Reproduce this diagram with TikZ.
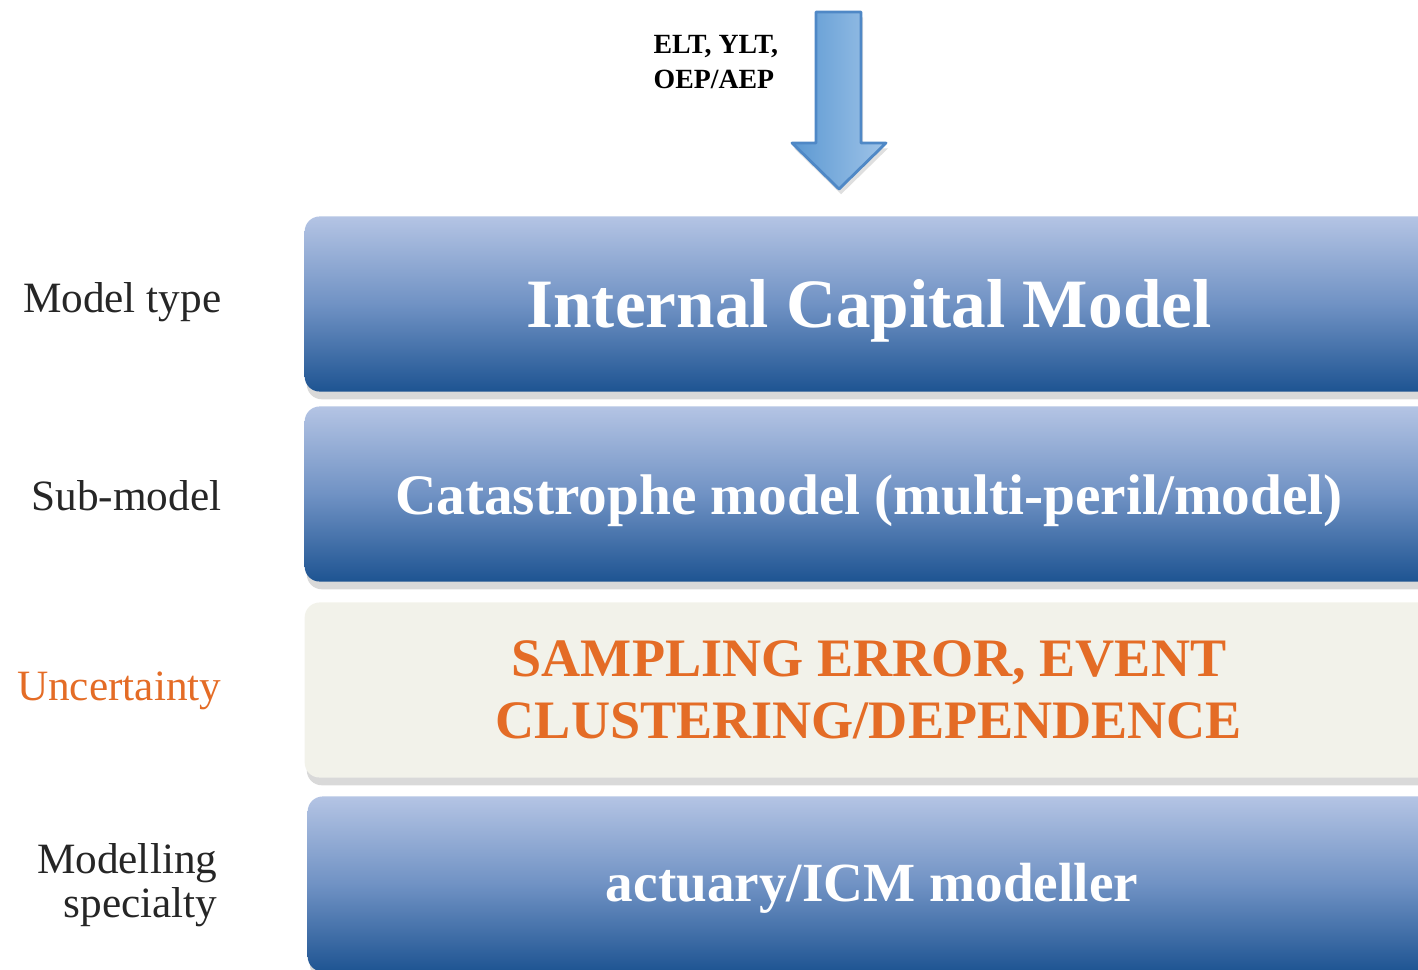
\documentclass[tikz,border=0pt]{standalone}
\usepackage{fontspec}
\setmainfont{Liberation Serif}
\usepackage{tikz}
\usetikzlibrary{shadows}
\definecolor{boxtop}{RGB}{180,196,228}
\definecolor{boxmid}{RGB}{112,146,196}
\definecolor{boxbot}{RGB}{30,84,146}
\definecolor{creambox}{RGB}{242,242,234}
\definecolor{uncorange}{RGB}{228,108,38}
\definecolor{labelgray}{RGB}{38,38,38}
\definecolor{arrowleft}{RGB}{91,152,210}
\definecolor{arrowright}{RGB}{160,196,232}
\definecolor{arrowedge}{RGB}{79,136,198}

\begin{document}
\begin{tikzpicture}
      [x=0.01cm,y=-0.01cm,line cap=round,line join=round,
     %the stacked layers
     layerbox/.style={rounded corners=0.15cm,minimum width=11.28cm,minimum height=1.75cm,
        drop shadow={shadow xshift=0.6pt,shadow yshift=-2.2pt,opacity=0.3}},
     bluebox/.style={layerbox,top color=boxtop,bottom color=boxbot,middle color=boxmid,
        text=white,font=\bfseries},
     %the labels on the left
     sidelabel/.style={anchor=east,align=right,text=labelgray,inner sep=0pt,
        font=\fontsize{12.3}{12.4}\selectfont}]

\useasboundingbox (0,0) rectangle (1418,970);

%input arrow and its label
  \filldraw[left color=arrowleft,right color=arrowright,draw=arrowedge,line width=0.8pt,
     drop shadow={shadow xshift=0.6pt,shadow yshift=-1.5pt,opacity=0.25}]
     (816,12) -- (861,12) -- (861,143) -- (886,143) -- (839,189)
     -- (792,143) -- (816,143) -- cycle;
  \node [anchor=west,align=left,inner sep=0pt,font=\fontsize{7.9}{9.7}\selectfont\bfseries]
     (input) at (653,62) {ELT, YLT,\\OEP/AEP};

%layers
  \node [bluebox,font=\fontsize{19.7}{22}\selectfont\bfseries,
     text height=17.5pt,text depth=4.3pt] (icm) at (869,304)
     {Internal Capital Model};
  \node [bluebox,font=\fontsize{16.3}{18}\selectfont\bfseries,
     text height=15.2pt,text depth=3.6pt] (cat) at (869,494)
     {Catastrophe model (multi-peril/model)};
  \node [layerbox,fill=creambox,text=uncorange,align=center,
     font=\fontsize{15.4}{17.6}\selectfont\bfseries] (unc) at (869,690)
     {SAMPLING ERROR, EVENT\\CLUSTERING/DEPENDENCE};
  \node [bluebox,font=\fontsize{15.7}{18}\selectfont\bfseries,
     text height=13.6pt,text depth=3.5pt] (act) at (872,884)
     {actuary/ICM modeller};

%side labels
  \node [sidelabel] (ltype) at (222,302) {Model type};
  \node [sidelabel] (lsub) at (222,496) {Sub-model};
  \node [sidelabel,text=uncorange] (lunc) at (222,691) {Uncertainty};
  \node [sidelabel] (lspec) at (218,885) {Modelling\\specialty};
\end{tikzpicture}
\end{document}
